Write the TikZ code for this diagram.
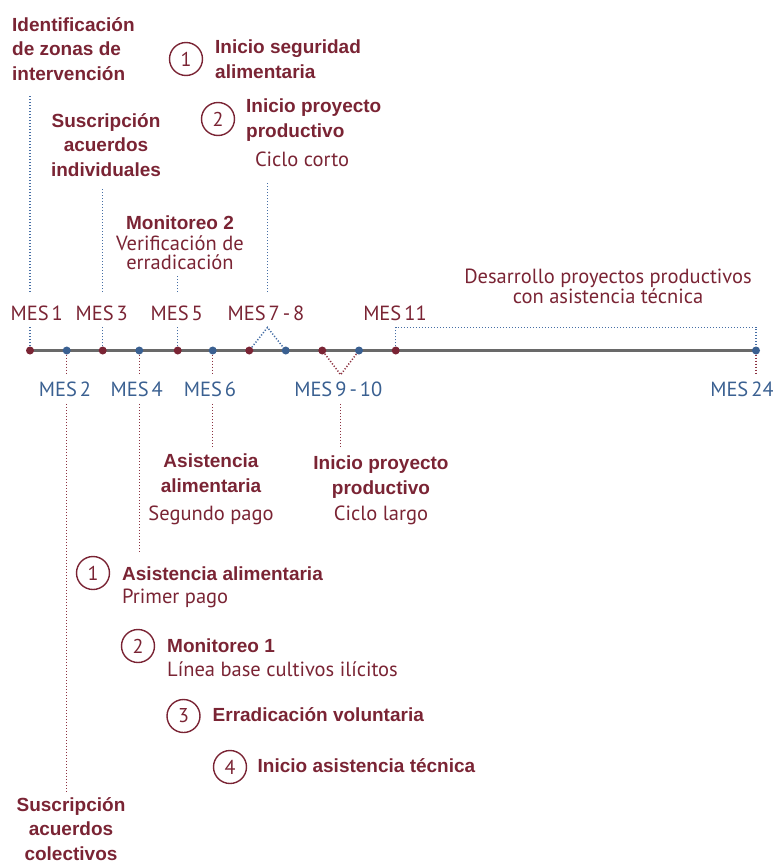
\documentclass[tikz,border=0pt]{standalone}
\usepackage{fontspec}
\setmainfont{PT Sans}
\newfontfamily\headfont{Liberation Sans}
\newfontfamily\mesfont[WordSpace=0.55]{PT Sans}
\usetikzlibrary{calc,backgrounds}
\definecolor{evred}{RGB}{122,36,52}
\definecolor{evblue}{RGB}{58,96,145}
\definecolor{lnred}{RGB}{140,50,65}
\definecolor{lnblue}{RGB}{70,110,165}
\definecolor{axgray}{RGB}{105,105,105}
\tikzset{
  rdot/.style={circle, fill=evred, inner sep=0pt, minimum size=8pt},
  bdot/.style={circle, fill=evblue, inner sep=0pt, minimum size=8pt},
  axis/.style={draw=axgray, line width=3.5pt},
  upl/.style={draw=lnblue, line width=1.5pt, dash pattern=on 1.2pt off 1.8pt},
  dnl/.style={draw=lnred, line width=1.5pt, dash pattern=on 1.2pt off 1.8pt},
  rlab/.style={anchor=base, inner xsep=0pt, inner ysep=7pt, text=evred, font=\mesfont\fontsize{20.5}{19.5}\selectfont},
  blab/.style={rlab, text=evblue},
  ttl/.style={inner sep=0pt, text=evred, font=\headfont\bfseries\fontsize{19}{24.5}\selectfont, execute at begin node=\rule{0pt}{16pt}},
  txt/.style={inner sep=0pt, text=evred, font=\fontsize{20.5}{19.5}\selectfont, execute at begin node=\rule{0pt}{16pt}},
  numc/.style={circle, draw=evred, line width=1.4pt, minimum size=33pt, inner sep=0pt, text=evred, font=\fontsize{20}{20}\selectfont}
}
\begin{document}
\begin{tikzpicture}[x=1pt,y=-1pt]
\useasboundingbox (0,0) rectangle (772,865);

% months on the line
\node[rdot] (m1) at (30,350.5) {};
\node[bdot] (m2) at (66.7,350.5) {};
\node[rdot] (m3) at (102.7,350.5) {};
\node[bdot] (m4) at (139.3,350.5) {};
\node[rdot] (m5) at (177.7,350.5) {};
\node[bdot] (m6) at (212.7,350.5) {};
\node[rdot] (m7) at (249.3,350.5) {};
\node[bdot] (m8) at (285.7,350.5) {};
\node[rdot] (m9) at (322.3,350.5) {};
\node[bdot] (m10) at (359,350.5) {};
\node[rdot] (m11) at (395.7,350.5) {};
\node[bdot] (m24) at (756,350.5) {};
\begin{scope}[on background layer]
\draw[axis] (m1.center) -- (m24.center);
\end{scope}

\node[rlab] (mes1) at (36.7,320) {MES 1};
\node[rlab] (mes3) at (101.7,320) {MES 3};
\node[rlab] (mes5) at (176.7,320) {MES 5};
\node[rlab] (mes78) at (266,320) {MES 7 - 8};
\node[rlab] (mes11) at (395,320) {MES 11};
\node[blab] (mes2) at (65,396.5) {MES 2};
\node[blab] (mes4) at (136.7,396.5) {MES 4};
\node[blab] (mes6) at (210,396.5) {MES 6};
\node[blab] (mes910) at (338.3,396.5) {MES 9 - 10};
\node[blab] (mes24) at (742,396.5) {MES 24};

% above the line
\node[ttl, anchor=north west, align=left] (zonas) at (12,17) {Identificación\\de zonas de\\intervención};
\node[ttl, anchor=north, align=center] (indiv) at (106,113) {Suscripción\\acuerdos\\individuales};
\node[ttl, anchor=north] (mon2) at (180,213) {Monitoreo 2};
\node[txt, anchor=north, align=center] (verif) at (180,235.5) {Verificación de\\erradicación};
\node[numc] (c1) at (186,59) {1};
\node[ttl, anchor=north west, align=left] (segur) at (215,40) {Inicio seguridad\\alimentaria};
\node[numc] (c2) at (218,119) {2};
\node[ttl, anchor=north west, align=left] (pcorto) at (246,99) {Inicio proyecto\\productivo};
\node[txt, anchor=north] (corto) at (302,150) {Ciclo corto};
\node[txt, anchor=north, align=center] (desar) at (608,269) {Desarrollo proyectos productivos\\con asistencia técnica};

% below the line
\node[ttl, anchor=north, align=center] (asis2) at (211,454) {Asistencia\\alimentaria};
\node[txt, anchor=north] (pago2) at (211,504.5) {Segundo pago};
\node[ttl, anchor=north, align=center] (plargo) at (381,456) {Inicio proyecto\\productivo};
\node[txt, anchor=north] (largo) at (381,504) {Ciclo largo};
\node[numc] (l1) at (93,573) {1};
\node[ttl, anchor=north west] (asis1) at (122,564) {Asistencia alimentaria};
\node[txt, anchor=north west] (pago1) at (122,587) {Primer pago};
\node[numc] (l2) at (138,646) {2};
\node[ttl, anchor=north west] (mon1) at (167,636) {Monitoreo 1};
\node[txt, anchor=north west] (base) at (167,660.7) {Línea base cultivos ilícitos};
\node[numc] (l3) at (183.5,716) {3};
\node[ttl, anchor=north west] (erra) at (212.5,705.7) {Erradicación voluntaria};
\node[numc] (l4) at (230,767) {4};
\node[ttl, anchor=north west] (tecn) at (257.5,756.7) {Inicio asistencia técnica};
\node[ttl, anchor=north, align=center] (colec) at (71,797) {Suscripción\\acuerdos\\colectivos};

\coordinate (t78) at ($(m7)!.5!(m8)$);
\coordinate (t910) at ($(m9)!.5!(m10)$);

\draw[upl] (m1) -- (m1 |- mes1.south);
\draw[upl, shorten <=6pt, shorten >=14.7pt] (m1 |- mes1.north) -- (m1 |- zonas.south);
\draw[upl] (m3) -- (m3 |- mes3.south);
\draw[upl, shorten <=6pt, shorten >=12pt] (m3 |- mes3.north) -- (m3 |- indiv.south);
\draw[upl] (m5) -- (m5 |- mes5.south);
\draw[upl, shorten <=6pt, shorten >=6pt] (m5 |- mes5.north) -- (m5 |- verif.south);
\draw[upl] (m7) -- (t78 |- mes78.south) -- (m8);
\draw[upl, shorten <=6pt, shorten >=16pt] (t78 |- mes78.north) -- (t78 |- corto.south);
\draw[upl] (m11) -- (m11 |- mes11.south) -| (m24);

\draw[dnl] (m2) -- (m2 |- mes2.north);
\draw[dnl, shorten >=4pt] (m2 |- mes2.south) -- (m2 |- colec.north);
\draw[dnl] (m4) -- (m4 |- mes4.north);
\draw[dnl, shorten >=11pt] (m4 |- mes4.south) -- (m4 |- asis1.north);
\draw[dnl] (m6) -- (m6 |- mes6.north);
\draw[dnl, shorten >=6pt] (m6 |- mes6.south) -- (m6 |- asis2.north);
\draw[dnl] (m9) -- (t910 |- mes910.north) -- (m10);
\draw[dnl, shorten >=8pt] (t910 |- mes910.south) -- (t910 |- plargo.north);
\draw[dnl] (m24) -- (m24 |- mes24.north);
\end{tikzpicture}
\end{document}
